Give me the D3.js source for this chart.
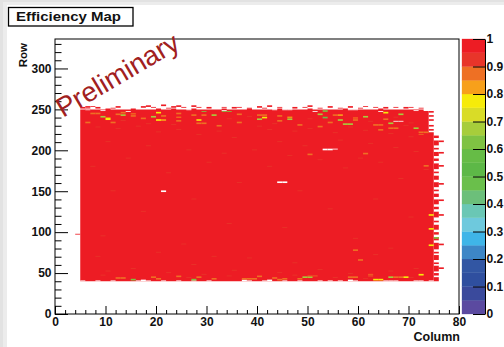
<!DOCTYPE html>
<html><head><meta charset="utf-8">
<script src="https://cdn.jsdelivr.net/npm/d3@7"></script>
<style>
html,body{margin:0;padding:0;background:#fff;}
svg{display:block;font-family:"Liberation Sans",Arial,Helvetica,sans-serif;}
</style></head><body>
<svg id="chart" width="504" height="347"></svg>
<script>
// ---- binning of the pixel matrix ----
const nColumns = 80;
const nRows = 336;
const columnTicks = [0, 10, 20, 30, 40, 50, 60, 70, 80];
const rowTicks = [0, 50, 100, 150, 200, 250, 300];
const zTicks = [0, 0.1, 0.2, 0.3, 0.4, 0.5, 0.6, 0.7, 0.8, 0.9, 1];
const zLabels = ["0", "0.1", "0.2", "0.3", "0.4", "0.5", "0.6", "0.7", "0.8", "0.9", "1"];

// 20 contour colours, efficiency 0 -> 1
const paletteColors = [
  "#5b4aa0", "#3a4a9c", "#2f4f9f", "#3256a3", "#3d86c6",
  "#3fb5e8", "#6ec9dd", "#6ac7b5", "#6cbf7a", "#6abf4b",
  "#5db847", "#66bc46", "#7fc243", "#a7cd3b", "#d9dc27",
  "#f6eb0a", "#f7a01b", "#ee7024", "#e8352a", "#ed1c24"
];

// ---- illuminated area: columns 5..74, rows from 40 up to bodyTop[col] ----
const firstCol = 5;
const lastCol = 74;
const bodyBottom = 40;
const bodyEff = 0.98;
const bodyTop = [
  249, 250, 249, 249, 249, 250, 249, 249,   // 5-12
  249, 249, 250, 249, 249, 249, 249, 250,   // 13-20
  249, 249, 250, 249, 249, 249, 250, 249,   // 21-28
  249, 249, 249, 249, 250, 249, 249, 249,   // 29-36
  249, 250, 249, 249, 249, 249, 249, 250,   // 37-44
  249, 249, 249, 249, 249, 250, 249, 249,   // 45-52
  249, 249, 249, 249, 250, 249, 249, 249,   // 53-60
  249, 249, 249, 250, 249, 249, 249, 249,   // 61-68
  249, 249, 249, 249, 247,                  // 69-73
  221                                       // 74
];

// isolated hit runs outside the main area: [column, fromRow, toRow]
const edgeRuns = [
  [4, 97, 97],
  [5, 251, 252], [6, 252, 253], [7, 253, 253], [8, 251, 252], [11, 251, 251], [12, 252, 253],
  [17, 252, 253], [18, 253, 254], [19, 252, 252], [21, 254, 255], [22, 251, 251], [23, 252, 253],
  [24, 253, 254], [25, 252, 252], [27, 253, 254], [28, 252, 252], [30, 251, 252], [33, 252, 252],
  [35, 251, 252], [36, 252, 252], [38, 251, 251], [40, 252, 253], [41, 251, 251], [42, 253, 254],
  [44, 252, 252], [47, 251, 252], [49, 252, 252], [50, 253, 254], [52, 251, 251], [54, 252, 253],
  [56, 251, 251], [58, 252, 253], [60, 251, 251], [61, 253, 253], [63, 252, 252], [65, 251, 252],
  [67, 252, 252], [69, 251, 252], [70, 252, 252], [72, 251, 251],
  [74, 224, 225], [74, 229, 230], [74, 236, 237], [74, 241, 242], [74, 246, 247],
  [75, 40, 44], [75, 47, 49], [75, 52, 58], [75, 61, 62], [75, 66, 71], [75, 74, 75],
  [75, 79, 86], [75, 90, 93], [75, 97, 99], [75, 103, 108], [75, 112, 113], [75, 118, 124],
  [75, 128, 130], [75, 134, 139], [75, 143, 146], [75, 150, 151], [75, 155, 160], [75, 164, 168],
  [75, 172, 173], [75, 177, 183], [75, 187, 189], [75, 193, 197], [75, 201, 202], [75, 206, 211],
  [75, 215, 217],
  [76, 55, 56], [76, 84, 85], [76, 120, 121], [76, 138, 139], [76, 158, 159], [76, 180, 181],
  [76, 196, 197], [76, 210, 211]
];

// runs without any hit inside the area: [column, fromRow, toRow]
const emptyRuns = [
  [6, 249, 249], [9, 248, 248], [14, 247, 247], [26, 249, 249], [33, 248, 248], [43, 249, 249],
  [45, 249, 249], [46, 249, 249], [51, 247, 247], [58, 249, 249], [59, 249, 249], [64, 247, 247],
  [67, 235, 235], [68, 235, 235], [71, 248, 248],
  [21, 149, 150], [44, 160, 161], [45, 160, 161], [53, 200, 201], [54, 200, 201], [55, 201, 201],
  [5, 40, 40], [8, 40, 40], [11, 40, 40], [16, 40, 40], [17, 40, 41], [18, 40, 40], [21, 40, 40],
  [24, 40, 40], [27, 40, 40], [30, 40, 40], [37, 40, 41], [38, 40, 40], [41, 40, 40], [42, 40, 41],
  [45, 40, 40], [48, 40, 40], [52, 40, 40], [54, 40, 40], [56, 40, 40], [58, 40, 41], [59, 40, 40],
  [65, 40, 40], [66, 40, 40], [67, 40, 40], [71, 40, 40], [72, 40, 40], [74, 40, 40]
];

// slightly reduced efficiency (0.90-0.95): [column, row]
const weakCells = [
  [8, 228], [12, 226], [16, 229], [20, 222], [24, 225], [28, 219], [32, 223], [35, 215],
  [10, 210], [18, 205], [26, 200], [33, 196], [14, 190], [30, 185], [7, 180], [22, 172],
  [36, 160], [11, 150], [27, 140], [17, 125], [34, 110], [9, 95], [25, 85], [31, 70],
  [40, 229], [42, 225], [47, 223], [50, 226], [55, 221], [58, 228], [61, 224], [66, 220],
  [69, 230], [70, 216], [44, 210], [49, 205], [56, 212], [62, 208], [67, 203], [71, 198],
  [39, 200], [46, 193], [52, 188], [60, 190], [64, 185], [73, 176], [42, 180], [57, 178],
  [68, 165], [48, 150], [63, 140], [54, 128], [70, 118], [45, 105], [59, 92], [66, 80],
  [10, 52], [15, 55], [22, 50], [29, 48], [35, 53], [44, 50], [52, 54], [58, 49], [66, 52],
  [71, 55], [8, 70], [20, 75], [38, 68], [63, 72], [47, 62], [27, 60],
  [13, 236], [18, 232], [23, 231], [34, 238], [38, 241], [43, 232], [50, 238], [62, 235],
  [67, 240], [70, 233], [9, 47], [26, 44], [34, 46], [47, 47], [55, 44], [61, 43], [70, 44]
];

// clearly lower efficiency: [column, fromRow, toRow, efficiency]
const lowRuns = [
  [7, 244, 245, 0.87], [8, 244, 245, 0.87], [9, 240, 241, 0.67], [10, 237, 239, 0.77],
  [12, 243, 244, 0.87], [13, 242, 243, 0.67], [13, 245, 246, 0.87], [15, 241, 242, 0.87],
  [15, 244, 244, 0.82], [17, 238, 239, 0.87], [19, 240, 241, 0.67], [20, 245, 246, 0.77],
  [20, 236, 237, 0.77], [21, 236, 237, 0.82], [21, 241, 242, 0.87], [24, 235, 236, 0.87],
  [24, 240, 240, 0.82], [24, 244, 245, 0.87], [27, 242, 243, 0.87], [28, 236, 237, 0.77],
  [28, 232, 233, 0.87], [29, 232, 233, 0.87], [29, 242, 243, 0.87], [29, 247, 247, 0.62],
  [31, 242, 243, 0.67], [32, 229, 230, 0.87], [33, 247, 247, 0.62], [34, 247, 247, 0.62],
  [36, 233, 234, 0.87], [36, 243, 244, 0.87], [6, 233, 234, 0.87], [11, 233, 234, 0.87],
  [40, 242, 243, 0.87], [41, 242, 243, 0.87], [40, 237, 238, 0.67], [41, 239, 240, 0.77],
  [44, 241, 242, 0.87], [44, 235, 236, 0.87], [46, 237, 238, 0.67], [46, 240, 240, 0.77],
  [48, 230, 231, 0.87], [53, 247, 248, 0.62], [52, 243, 244, 0.67], [52, 228, 229, 0.87],
  [53, 239, 240, 0.47], [54, 233, 234, 0.87], [55, 242, 243, 0.87], [56, 242, 243, 0.82],
  [56, 236, 237, 0.67], [57, 231, 232, 0.67], [58, 231, 232, 0.67], [59, 236, 237, 0.87],
  [59, 239, 239, 0.82], [61, 240, 241, 0.67], [63, 230, 231, 0.87], [64, 230, 231, 0.87],
  [64, 224, 225, 0.87], [65, 237, 238, 0.87], [65, 245, 246, 0.77], [66, 232, 233, 0.67],
  [68, 243, 244, 0.67], [66, 226, 227, 0.87], [67, 226, 227, 0.87], [71, 226, 227, 0.67],
  [72, 221, 222, 0.87], [73, 221, 222, 0.87], [72, 219, 219, 0.87],
  [50, 194, 195, 0.87], [61, 195, 196, 0.87], [73, 180, 181, 0.87],
  [12, 43, 44, 0.87], [13, 43, 44, 0.87], [15, 41, 42, 0.62], [19, 44, 45, 0.87],
  [20, 42, 43, 0.87], [24, 45, 46, 0.87], [28, 44, 45, 0.87], [27, 41, 42, 0.62],
  [31, 42, 43, 0.87], [37, 42, 43, 0.87], [38, 42, 43, 0.87], [39, 42, 43, 0.87],
  [40, 45, 46, 0.87], [43, 43, 44, 0.87], [44, 41, 42, 0.87], [45, 42, 43, 0.87],
  [48, 42, 43, 0.87], [49, 44, 45, 0.67], [50, 44, 45, 0.67], [50, 46, 46, 0.87],
  [51, 46, 46, 0.87], [58, 44, 45, 0.87], [59, 44, 45, 0.87], [62, 48, 48, 0.87],
  [62, 46, 46, 0.87], [63, 41, 42, 0.77], [64, 41, 42, 0.77], [66, 44, 45, 0.67],
  [67, 44, 45, 0.87], [68, 44, 45, 0.87], [69, 44, 45, 0.77], [72, 47, 48, 0.77],
  [59, 77, 78, 0.87], [60, 65, 66, 0.87], [74, 83, 84, 0.77], [75, 92, 93, 0.62],
  [74, 103, 104, 0.77], [74, 120, 121, 0.77]
];

// ---- layout ----
const W = 504, H = 347;
const plot = { left: 55, right: 459, top: 39, bottom: 314 };
const pal = { left: 462, right: 485 };

const svg = d3.select("#chart");

// canvas and pad
svg.append("rect").attr("width", W).attr("height", H).attr("fill", "#e2e2e2");
svg.append("rect").attr("x", 3).attr("y", 2).attr("width", W - 3).attr("height", H - 2).attr("fill", "#ececec");
svg.append("rect").attr("x", 7).attr("y", 5).attr("width", W - 7).attr("height", H - 5).attr("fill", "#ffffff");

const x = d3.scaleLinear().domain([0, nColumns]).range([plot.left, plot.right]);
const y = d3.scaleLinear().domain([0, nRows]).range([plot.bottom, plot.top]);
const z = d3.scaleLinear().domain([0, 1]).range([plot.bottom, plot.top]);
const colorOf = v => paletteColors[Math.min(paletteColors.length - 1, Math.floor(v * paletteColors.length))];

const cells = svg.append("g");

// main illuminated area as one outline
const outline = [[firstCol, bodyBottom], [lastCol + 1, bodyBottom]];
for (let c = lastCol; c >= firstCol; c--) {
  const top = bodyTop[c - firstCol] + 1;
  outline.push([c + 1, top], [c, top]);
}
cells.append("path")
  .attr("d", d3.line().x(d => x(d[0])).y(d => y(d[1]))(outline) + "Z")
  .attr("fill", colorOf(bodyEff));

const cellRect = (sel, col, r0, r1) => sel
  .attr("x", x(col)).attr("width", x(col + 1) - x(col))
  .attr("y", y(r1 + 1)).attr("height", y(r0) - y(r1 + 1));

cells.selectAll(".weak").data(weakCells).join("rect")
  .each(function (d) { cellRect(d3.select(this), d[0], d[1], d[1]); })
  .attr("fill", colorOf(0.93));

cells.selectAll(".edge").data(edgeRuns).join("rect")
  .each(function (d) { cellRect(d3.select(this), d[0], d[1], d[2]); })
  .attr("fill", colorOf(bodyEff));

cells.selectAll(".empty").data(emptyRuns).join("rect")
  .each(function (d) { cellRect(d3.select(this), d[0], d[1], d[2]); })
  .attr("fill", "#ffffff");

cells.selectAll(".low").data(lowRuns).join("rect")
  .each(function (d) { cellRect(d3.select(this), d[0], d[1], d[2]); })
  .attr("fill", d => colorOf(d[3]));

// frame
svg.append("rect")
  .attr("x", plot.left).attr("y", plot.top)
  .attr("width", plot.right - plot.left).attr("height", plot.bottom - plot.top)
  .attr("fill", "none").attr("stroke", "#000").attr("stroke-width", 1);

const styleAxis = g => {
  g.attr("font-family", "'Liberation Sans', Arial, sans-serif")
   .attr("font-size", 12).attr("font-weight", "bold");
  g.select(".domain").remove();
  g.selectAll("line").attr("stroke", "#000");
  g.selectAll("text").attr("fill", "#111");
};

// x axis
svg.append("g").attr("transform", `translate(0,${plot.bottom})`)
  .call(d3.axisBottom(x).tickValues(d3.range(0, 81, 2).filter(v => v % 10)).tickSize(-4).tickFormat(""))
  .call(styleAxis);
svg.append("g").attr("transform", `translate(0,${plot.bottom})`)
  .call(d3.axisBottom(x).tickValues(columnTicks).tickSize(-8).tickPadding(3).tickFormat(d3.format("d")))
  .call(styleAxis);

// y axis
svg.append("g").attr("transform", `translate(${plot.left},0)`)
  .call(d3.axisLeft(y).tickValues(d3.range(0, nRows, 10).filter(v => v % 50)).tickSize(-6.5).tickFormat(""))
  .call(styleAxis);
svg.append("g").attr("transform", `translate(${plot.left},0)`)
  .call(d3.axisLeft(y).tickValues(rowTicks).tickSize(-13).tickPadding(3.5).tickFormat(d3.format("d")))
  .call(styleAxis);

// colour palette
svg.append("g").selectAll("rect").data(paletteColors).join("rect")
  .attr("x", pal.left).attr("width", pal.right - pal.left)
  .attr("y", (d, i) => z((i + 1) / paletteColors.length))
  .attr("height", (d, i) => z(i / paletteColors.length) - z((i + 1) / paletteColors.length))
  .attr("fill", d => d).attr("stroke", d => d).attr("stroke-width", 0.3);

const zAxis = svg.append("g").attr("transform", `translate(${pal.right},0)`)
  .call(d3.axisRight(z).tickValues(zTicks).tickSize(-12).tickSizeOuter(0).tickPadding(1.5)
    .tickFormat((d, i) => zLabels[i]))
  .call(g => g.attr("font-family", "'Liberation Sans', Arial, sans-serif")
    .attr("font-size", 12).attr("font-weight", "bold"));
zAxis.selectAll("line").attr("stroke", "#000");
zAxis.select(".domain").attr("stroke", "#000");
zAxis.selectAll("text").attr("fill", "#111");

// axis titles
svg.append("text")
  .attr("transform", "translate(27,43) rotate(-90)")
  .attr("text-anchor", "end").attr("font-size", 11.5).attr("font-weight", "bold")
  .attr("fill", "#111").text("Row");
svg.append("text")
  .attr("x", 460).attr("y", 341).attr("text-anchor", "end")
  .attr("font-size", 12.5).attr("font-weight", "bold").attr("fill", "#111").text("Column");

// title box
svg.append("rect").attr("x", 8.5).attr("y", 7.5).attr("width", 124.5).attr("height", 18.5)
  .attr("fill", "#fff").attr("stroke", "#000").attr("stroke-width", 1.3);
svg.append("text").attr("x", 16).attr("y", 21)
  .attr("font-size", 13).attr("font-weight", "bold").attr("fill", "#111")
  .attr("textLength", 105).attr("lengthAdjust", "spacingAndGlyphs")
  .text("Efficiency Map");

// watermark
svg.append("text")
  .attr("transform", "translate(63,118) rotate(-30.5)")
  .attr("font-size", 27.5).attr("fill", "#a12020")
  .text("Preliminary");
</script>
</body></html>
